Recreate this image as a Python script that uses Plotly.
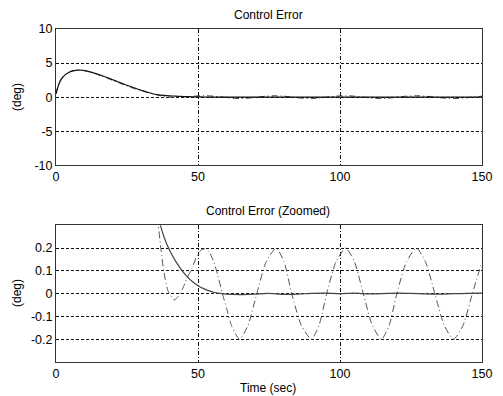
import plotly.graph_objects as go

# ---- data ----
t_solid = [0, 0.5, 1, 2, 3, 4, 5, 6, 7, 8, 9, 10, 12, 14, 16, 18, 20, 22, 24, 26, 28, 30,
           32, 34, 36, 38, 40, 42, 44, 46, 48, 50, 52, 54, 56, 58, 60, 65, 70, 75, 80, 85,
           90, 95, 100, 105, 110, 115, 120, 125, 130, 135, 140, 145, 150]
err_solid = [0.5, 1.2, 1.9, 2.7, 3.2, 3.5, 3.72, 3.86, 3.94, 3.97, 3.95, 3.9, 3.72, 3.47,
             3.18, 2.88, 2.55, 2.22, 1.9, 1.6, 1.3, 1.02, 0.76, 0.5, 0.34, 0.25, 0.19, 0.145,
             0.108, 0.077, 0.053, 0.035, 0.022, 0.012, 0.005, 0.001, -0.002, -0.004, -0.002,
             0.001, -0.003, -0.002, 0.001, 0.002, 0.0, 0.002, -0.001, 0.0, 0.002, 0.001,
             -0.001, -0.002, 0.0, 0.001, 0.002]

t_dash = [0, 1, 2, 3, 4, 5, 6, 7, 8, 9, 10, 12, 14, 16, 18, 20, 22, 24, 26, 28, 30, 32, 34,
          36, 37, 38, 39.5, 41.7, 43, 44.6, 46.2, 47.8, 49.6, 51, 52.3, 53.8, 55.4, 57, 58.6,
          60.1, 61.8, 64.6, 67.6, 70.7, 74.0, 77.5, 80.3, 83.0, 86.4, 89.9, 92.6, 95.3, 98.6,
          102.0, 105.1, 108.2, 111.4, 114.6, 117.3, 120.0, 123.4, 126.9, 130.1, 133.4, 136.7,
          140.0, 143.3, 146.6, 150]
err_dash = [0.5, 2.1, 2.8, 3.25, 3.55, 3.75, 3.9, 3.97, 4.0, 3.97, 3.9, 3.7, 3.4, 3.1, 2.8,
            2.45, 2.15, 1.8, 1.5, 1.2, 0.95, 0.72, 0.48, 0.30, 0.19, 0.095, 0.01, -0.028,
            -0.012, 0.022, 0.07, 0.11, 0.165, 0.19, 0.197, 0.185, 0.145, 0.08, 0.0, -0.066,
            -0.14, -0.2, -0.14, 0.0, 0.14, 0.2, 0.14, 0.0, -0.14, -0.2, -0.14, 0.0, 0.14, 0.2,
            0.14, 0.0, -0.14, -0.2, -0.14, 0.0, 0.14, 0.2, 0.14, 0.0, -0.14, -0.2, -0.14, 0.0,
            0.14]

x_ticks = [0, 50, 100, 150]
y1_ticks = [-10, -5, 0, 5, 10]
y1_ticktext = ["-10", "-5", "0", "5", "10"]
y2_ticks = [-0.2, -0.1, 0, 0.1, 0.2]
y2_ticktext = ["-0.2", "-0.1", "0", "0.1", "0.2"]

FONT = "Liberation Sans, Arial, sans-serif"

fig = go.Figure()

# top panel
fig.add_trace(go.Scatter(x=t_dash, y=err_dash, mode="lines", xaxis="x", yaxis="y",
                         line=dict(color="#333", width=1, dash="6px,3px,1px,3px", shape="spline", smoothing=0.6),
                         hoverinfo="skip"))
fig.add_trace(go.Scatter(x=t_solid, y=err_solid, mode="lines", xaxis="x", yaxis="y",
                         line=dict(color="#111", width=1.2, shape="spline", smoothing=0.6),
                         hoverinfo="skip"))
# bottom panel
fig.add_trace(go.Scatter(x=t_dash, y=err_dash, mode="lines", xaxis="x2", yaxis="y2",
                         line=dict(color="#555", width=1, dash="7px,3px,1px,3px", shape="spline", smoothing=0.6),
                         hoverinfo="skip"))
fig.add_trace(go.Scatter(x=t_solid, y=err_solid, mode="lines", xaxis="x2", yaxis="y2",
                         line=dict(color="#444", width=1.2, shape="spline", smoothing=0.6),
                         hoverinfo="skip"))

ax_common = dict(showline=True, linecolor="#333", linewidth=1, mirror=True, ticks="",
                 zeroline=False, showgrid=True, gridcolor="#111", gridwidth=1,
                 tickfont=dict(family=FONT, size=12.5, color="#000"))

W, H = 503, 396
L, R, T, B = 56, 21, 29, 34
pw, ph = W - L - R, H - T - B

fig.update_layout(
    width=W, height=H,
    margin=dict(l=L, r=R, t=T, b=B),
    paper_bgcolor="white", plot_bgcolor="white",
    showlegend=False,
    xaxis=dict(domain=[0, 1], range=[0, 150], tickvals=x_ticks, anchor="y",
               griddash="4px,2px,1px,2px", **ax_common),
    yaxis=dict(domain=[0.5907, 1], range=[-10, 10], tickvals=y1_ticks, ticktext=y1_ticktext,
               anchor="x", griddash="3px,2px", **ax_common),
    xaxis2=dict(domain=[0, 1], range=[0, 150], tickvals=x_ticks, anchor="y2",
                griddash="4px,2px,1px,2px", **ax_common),
    yaxis2=dict(domain=[0, 0.4105], range=[-0.3, 0.3], tickvals=y2_ticks, ticktext=y2_ticktext,
                anchor="x2", griddash="3px,2px", **ax_common),
)


def px(x):
    return (x - L) / pw


def py(y):
    return 1 - (y - T) / ph


for txt, x, y, ang in [("Control Error", 268, 15, 0),
                       ("Control Error (Zoomed)", 268, 211, 0),
                       ("Time (sec)", 268, 388, 0),
                       ("(deg)", 17, 97, -90),
                       ("(deg)", 17, 293, -90)]:
    fig.add_annotation(text=txt, x=px(x), y=py(y), xref="paper", yref="paper",
                       showarrow=False, textangle=ang, xanchor="center", yanchor="middle",
                       font=dict(family=FONT, size=12, color="#000"))

fig.write_html("out.html")
